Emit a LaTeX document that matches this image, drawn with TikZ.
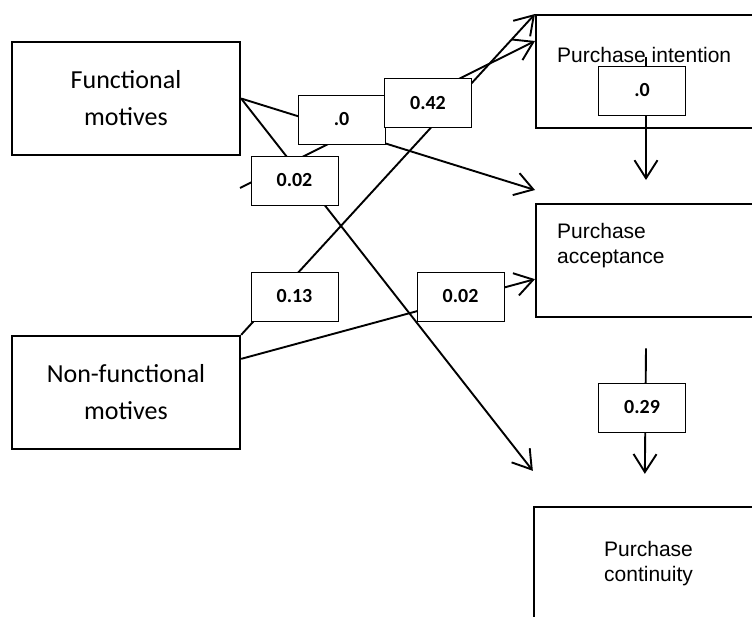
\documentclass[tikz,border=0pt]{standalone}
\usepackage{fontspec}
\setmainfont{Carlito}
\newfontfamily\arialfont{Liberation Sans}
\usetikzlibrary{arrows.meta,positioning}

\tikzset{
  motive/.style={draw, line width=2.3pt, minimum width=228pt, minimum height=113pt,
    inner sep=0pt, align=center, font=\fontsize{26}{37}\selectfont},
  outcome/.style={draw, line width=2.3pt, minimum width=229pt, minimum height=113pt,
    inner sep=0pt, align=center, font=\arialfont\fontsize{21}{25}\selectfont},
  outtext/.style={inner sep=0pt, align=left, font=\arialfont\fontsize{21}{25}\selectfont},
  coef/.style={draw, fill=white, line width=0.8pt, minimum width=87pt, minimum height=49pt,
    inner sep=0pt, font=\bfseries\fontsize{20}{24}\selectfont},
  effect/.style={line width=1.9pt, -{Straight Barb[length=18pt, width=23pt]}},
}

\begin{document}
\begin{tikzpicture}[x=1pt, y=-1pt]
        \useasboundingbox (0,0) rectangle (752,616);

        % Motive boxes
        \node[motive] (fun) at (126,98.5) {Functional\\motives};
        \node[motive] (nonfun) at (126,392.5) {Non-functional\\motives};

        % Purchase boxes
        \node[outcome, anchor=north west,
          label={[outtext, anchor=north west, xshift=22pt, yshift=-33pt]north west:Purchase intention}]
          (intent) at (535,14) {};
        \node[outcome, anchor=north west,
          label={[outtext, anchor=north west, xshift=22pt, yshift=-20pt]north west:Purchase\\acceptance}]
          (accept) at (535,203) {};
        \node[outcome] (contin) at (648.5,563.5) {Purchase\\continuity};

        % Free start of the 0.42 path
        \coordinate (stray) at (240,188);

        % Paths from the motives
        \draw[effect] (fun.east) -- ([yshift=13pt]accept.north west);
        \draw[effect] (fun.east) -- ([yshift=35pt]contin.north west);
        \draw[effect] (stray) -- ([yshift=-27pt]intent.north west);
        \draw[effect] (nonfun.north east) -- (intent.north west);
        \draw[effect] ([yshift=-24pt]nonfun.north east) -- ([yshift=-18.5pt]accept.west);

        % Paths between the purchase stages
        \draw[effect] ([xshift=111pt, yshift=-43pt]intent.north west) -- ([xshift=111pt, yshift=23pt]accept.north west);
        \draw[effect] ([xshift=111pt, yshift=-30pt]accept.south west) -- ([xshift=112pt, yshift=32pt]contin.north west);

        % Coefficients
        \node[coef] (cfa) at (341.5,119.5) {.0};
        \node[coef] (cfb) at (428,103) {0.42};
        \node[coef] (cfc) at (294.5,180.5) {0.02};
        \node[coef] (cfd) at (294.5,296.5) {0.13};
        \node[coef] (cfe) at (460.5,296.5) {0.02};
        \node[coef] (cff) at (642,90.5) {.0};
        \node[coef] (cfg) at (642,407.5) {0.29};
      \end{tikzpicture}
\end{document}
